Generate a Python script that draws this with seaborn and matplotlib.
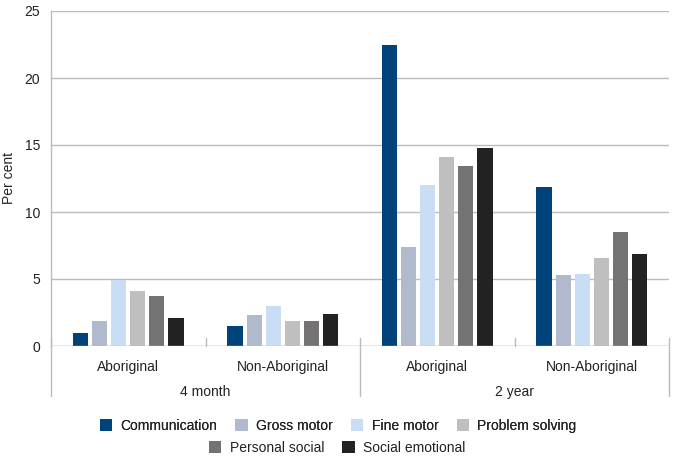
import matplotlib
matplotlib.use("Agg")
import matplotlib.pyplot as plt
import matplotlib.transforms as mtransforms
import seaborn as sns
import pandas as pd

skills = ["Communication", "Gross motor", "Fine motor", "Problem solving",
          "Personal social", "Social emotional"]
groups = ["4 month", "4 month", "2 year", "2 year"]
subgroups = ["Aboriginal", "Non-Aboriginal", "Aboriginal", "Non-Aboriginal"]
ages = ["4 month", "2 year"]

m4_aboriginal = [1.0, 1.9, 4.9, 4.1, 3.7, 2.1]
m4_non_aboriginal = [1.5, 2.3, 3.0, 1.9, 1.9, 2.4]
y2_aboriginal = [22.5, 7.4, 12.0, 14.1, 13.4, 14.8]
y2_non_aboriginal = [11.9, 5.3, 5.4, 6.6, 8.5, 6.9]

colors = ["#00427A", "#B1BACD", "#C9DDF5", "#BFBFBF", "#747273", "#222222"]

series = [m4_aboriginal, m4_non_aboriginal, y2_aboriginal, y2_non_aboriginal]
rows = []
for gi, vals in enumerate(series):
    for s, v in zip(skills, vals):
        rows.append({"cat": f"{groups[gi]}|{subgroups[gi]}", "skill": s, "value": v})
df = pd.DataFrame(rows)
order = [f"{g}|{s}" for g, s in zip(groups, subgroups)]

sns.set_theme(style="white")
plt.rcParams["font.family"] = ["Liberation Sans", "DejaVu Sans"]

FS = 10
fig = plt.figure(figsize=(6.75, 4.58), dpi=100)
ax = fig.add_axes([51 / 675, 1 - 346 / 458, 618 / 675, 335 / 458])

sns.barplot(data=df, x="cat", y="value", hue="skill", order=order,
            hue_order=skills, palette=colors, width=0.74, gap=0.2,
            linewidth=0, saturation=1, ax=ax, legend=True, errorbar=None)

handles, labels = ax.get_legend_handles_labels()
ax.get_legend().remove()

ax.set_ylim(0, 25)
ax.set_xlim(-0.5, 3.5)
ax.set_yticks([0, 5, 10, 15, 20, 25])
ax.yaxis.grid(True, color="#BBBBBB", linewidth=1)
ax.set_axisbelow(True)
for side in ["top", "right", "bottom"]:
    ax.spines[side].set_visible(False)
ax.spines["left"].set_color("#BBBBBB")
ax.spines["left"].set_linewidth(1)
ax.tick_params(axis="y", length=0, labelsize=FS, colors="#222222", pad=8)
ax.set_ylabel("Per cent", fontsize=FS, color="#222222", labelpad=6)
ax.set_xlabel("")
ax.set_xticks([0, 1, 2, 3])
ax.set_xticklabels(subgroups, fontsize=FS, color="#222222")
ax.tick_params(axis="x", length=0, pad=10)

trans = mtransforms.blended_transform_factory(ax.transData, ax.transAxes)
for i, a in enumerate(ages):
    ax.text(0.5 + 2 * i, -0.136, a, transform=trans, ha="center", va="center",
            fontsize=FS, color="#222222")
for x in [-0.5, 1.5, 3.5]:
    ax.plot([x, x], [0.024, -0.15], transform=trans, color="#BBBBBB",
            linewidth=1, clip_on=False)
for x in [0.5, 2.5]:
    ax.plot([x, x], [0, 0.024], transform=trans, color="#BBBBBB",
            linewidth=1, clip_on=False)
ax.axhline(0, color="#BBBBBB", linewidth=1)

leg1 = fig.legend(handles[:4], labels[:4], loc="center", ncol=4,
                  bbox_to_anchor=(338 / 675, 1 - 426 / 458), frameon=False,
                  fontsize=FS, handlelength=0.9, handleheight=0.9,
                  handletextpad=0.6, columnspacing=1.3)
for t in leg1.get_texts():
    t.set_color("#222222")
leg2 = fig.legend(handles[4:], labels[4:], loc="center", ncol=2,
                  bbox_to_anchor=(337 / 675, 1 - 448 / 458), frameon=False,
                  fontsize=FS, handlelength=0.9, handleheight=0.9,
                  handletextpad=0.6, columnspacing=1.3)
for t in leg2.get_texts():
    t.set_color("#222222")
fig.add_artist(leg1)

fig.savefig("out.png", dpi=100)
